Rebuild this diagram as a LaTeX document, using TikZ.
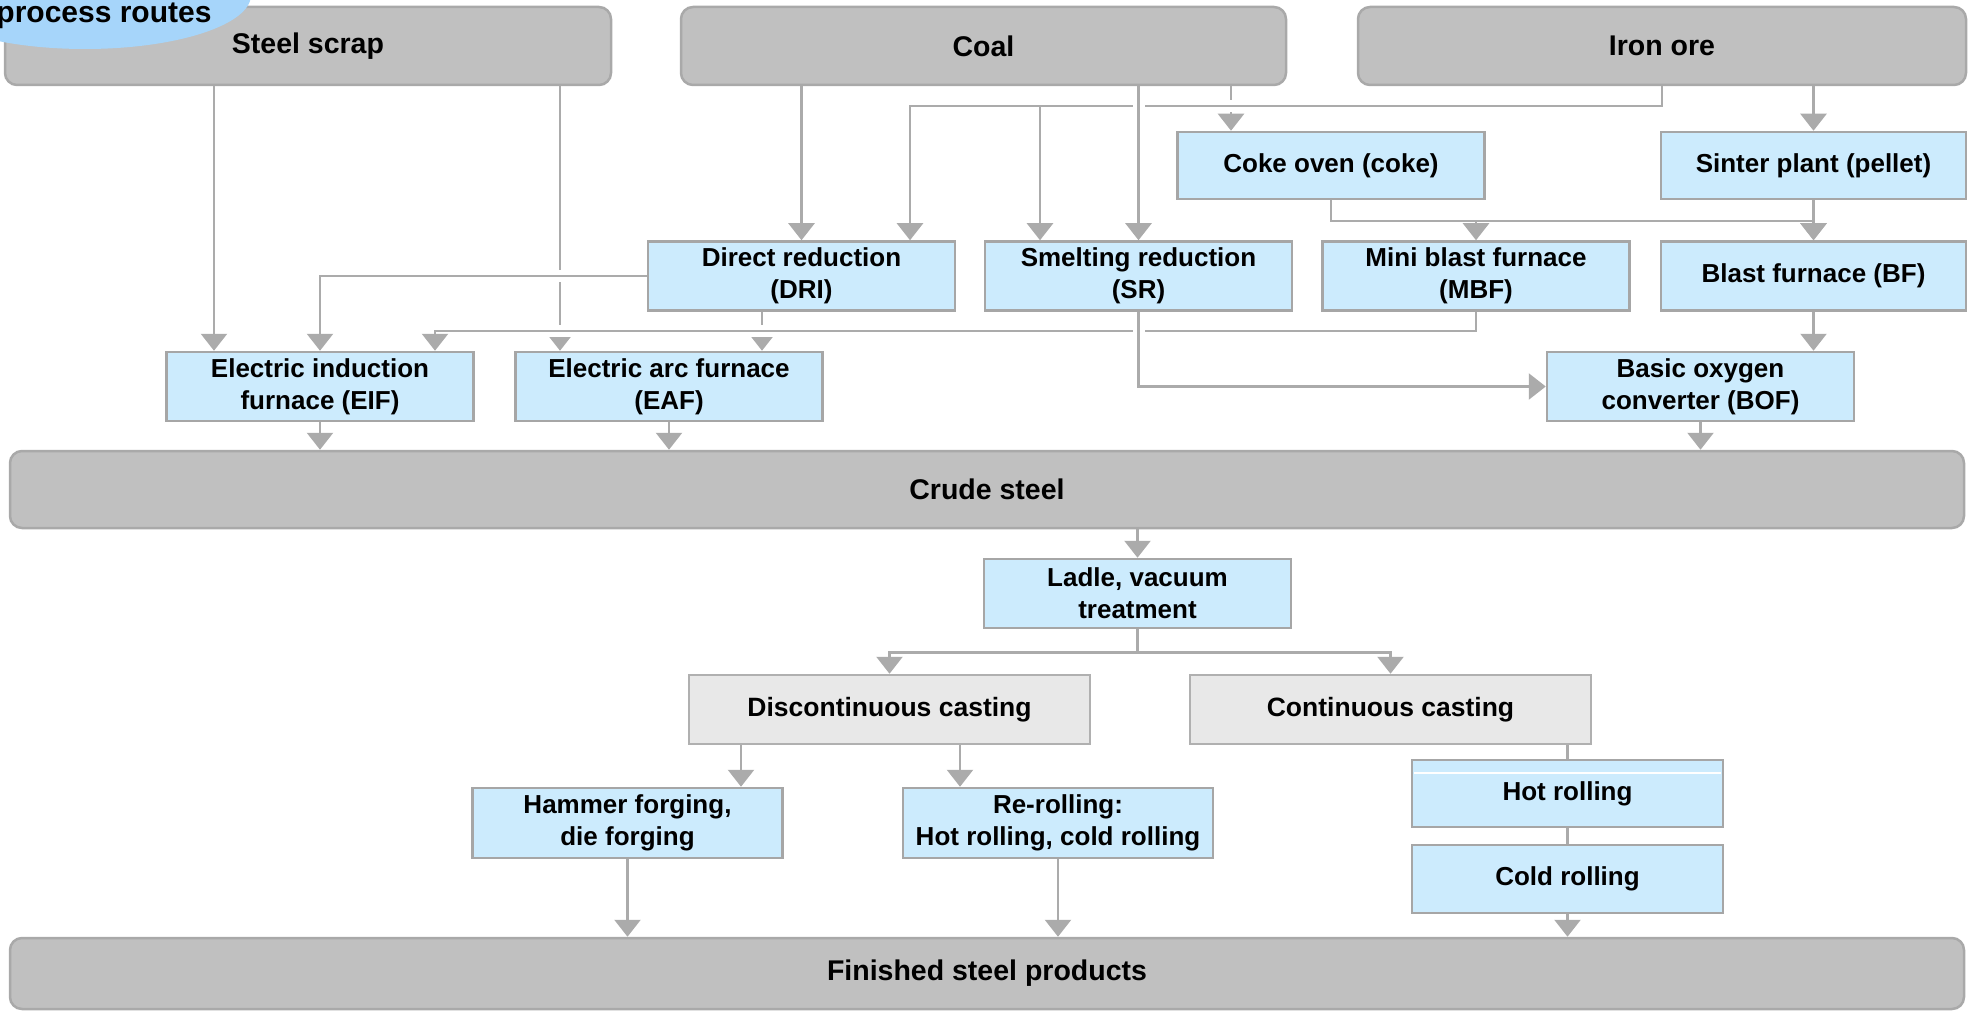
\documentclass[tikz,border=0pt]{standalone}
\usepackage{fontspec}
\setmainfont{Liberation Sans}
\usetikzlibrary{arrows.meta,calc}
\definecolor{grayfill}{HTML}{C0C0C0}
\definecolor{grayedge}{HTML}{A9A9A9}
\definecolor{bluefill}{HTML}{CCEBFD}
\definecolor{blueedge}{HTML}{A6A6A6}
\definecolor{ltfill}{HTML}{E8E8E8}
\definecolor{ltedge}{HTML}{B0B0B0}
\definecolor{linec}{HTML}{ABABAB}
\definecolor{bubblec}{HTML}{A6D5FA}
\begin{document}
\begin{tikzpicture}[x=1pt,y=-1pt,
  base/.style={inner sep=0pt, align=center, line width=2.5pt,
    font=\bfseries\fontsize{26pt}{32pt}\selectfont},
  graybox/.style={base, rounded corners=12pt, fill=grayfill, draw=grayedge,
    font=\bfseries\fontsize{28.5pt}{34pt}\selectfont, minimum height=78pt},
  bluebox/.style={base, fill=bluefill, draw=blueedge, minimum width=307pt, minimum height=69pt},
  ltbox/.style={base, fill=ltfill, draw=ltedge, minimum width=401pt, minimum height=69pt,
    font=\bfseries\fontsize{26.5pt}{32pt}\selectfont},
  conn/.style={draw=linec, line width=2.5pt},
  arr/.style={conn, -{Triangle[width=26pt,length=17pt]}},
  gapped/.style={preaction={draw=white, line width=12pt, -, shorten <=4pt, shorten >=4pt}}
]
\useasboundingbox (0,0) rectangle (1970,1011);

% nodes
\node[graybox, minimum width=606pt] (scrap) at (308,46) {Steel scrap};
\node[graybox, minimum width=605pt] (coal) at (983.5,46) {Coal};
\node[graybox, minimum width=608pt] (ore) at (1662,46) {Iron ore};

\node[bluebox, minimum height=67pt] (coke) at (1331,165.5) {Coke oven (coke)};
\node[bluebox, minimum height=67pt, minimum width=305pt] (sinter) at (1813.5,165.5) {Sinter plant (pellet)};

\node[bluebox] (dri) at (801.5,276) {Direct reduction\\(DRI)};
\node[bluebox] (sr) at (1138.5,276) {Smelting reduction\\(SR)};
\node[bluebox] (mbf) at (1476,276) {Mini blast furnace\\(MBF)};
\node[bluebox, minimum width=305pt] (bf) at (1813.5,276) {Blast furnace (BF)};

\node[bluebox] (eif) at (320,386.5) {Electric induction\\furnace (EIF)};
\node[bluebox] (eaf) at (669,386.5) {Electric arc furnace\\(EAF)};
\node[bluebox] (bof) at (1700.5,386.5) {Basic oxygen\\converter (BOF)};

\node[graybox, minimum width=1954pt, minimum height=77pt] (crude) at (987,489.5) {Crude steel};

\node[bluebox] (ladle) at (1137.5,593.5) {Ladle, vacuum\\treatment};

\node[ltbox] (disc) at (889.5,709.5) {Discontinuous casting};
\node[ltbox] (cont) at (1390.5,709.5) {Continuous casting};

\node[bluebox, minimum width=310pt, minimum height=70pt] (hammer) at (627.5,823) {Hammer forging,\\die forging};
\node[bluebox, minimum width=310pt, minimum height=70pt] (reroll) at (1058,823) {Re-rolling:\\Hot rolling, cold rolling};
\node[bluebox, minimum width=311pt, minimum height=67pt] (hot) at (1567.5,793.5) {Hot rolling};
\node[bluebox, minimum width=311pt, minimum height=68pt] (cold) at (1567.5,879) {Cold rolling};
\draw[white, line width=1.5pt] ([xshift=3pt,yshift=-14pt]hot.north west) -- ([xshift=-3pt,yshift=-14pt]hot.north east);

\node[graybox, minimum width=1954pt, minimum height=71pt] (fin) at (987,973.5) {Finished steel products};

% bubble
\fill[bubblec] (85,-5) ellipse [x radius=166, y radius=54];
\node[anchor=base, inner sep=0pt, font=\bfseries\fontsize{30pt}{34pt}\selectfont] (bubtext) at (104,23) {process routes};

% plain connectors
\draw[arr] (scrap.south -| 214,0) -- (eif.north -| 214,0);
\draw[arr] (scrap.south -| 560,0) -- (eaf.north -| 560,0);
\draw[arr] (coal.south -| dri.north) -- (dri.north);
\draw[arr] (coal.south -| 1231,0) -- (coke.north -| 1231,0);
\draw[arr] (ore.south -| sinter.north) -- (sinter.north);
\draw[arr] (coke.south) |- (1813.5,221) -- (bf.north);
\draw[arr] (sinter.south) -- (bf.north);
\draw[arr] (coke.south |- 0,221) -| (mbf.north);
\draw[arr] (dri.south -| 762,0) -- (eaf.north -| 762,0);
\draw[arr] (bf.south) -- (bof.north -| bf.south);

% crossing connectors (drawn over, with gaps)
\draw[arr, gapped] (ore.south) |- (910,106) -- (dri.north -| 910,0);
\draw[arr] (1040,106) -- (sr.north -| 1040,0);
\draw[arr, gapped] (coal.south -| sr.north) -- (sr.north);
\draw[arr, gapped] (dri.west) -| (eif.north);
\draw[arr, gapped] (mbf.south) |- (435,331) -- (eif.north -| 435,0);
\draw[arr, gapped] (sr.south) |- (bof.west);

% to crude steel
\draw[arr] (eif.south) -- (crude.north -| eif.south);
\draw[arr] (eaf.south) -- (crude.north -| eaf.south);
\draw[arr] (bof.south) -- (crude.north -| bof.south);

% lower part
\draw[arr] (crude.south -| ladle.north) -- (ladle.north);
\coordinate (lb) at ($(ladle.south)+(0,23)$);
\draw[conn] (ladle.south) -- (lb);
\draw[arr] (lb) -| (disc.north);
\draw[arr] (lb) -| (cont.north);
\draw[arr] (disc.south -| 741,0) -- (hammer.north -| 741,0);
\draw[arr] (disc.south -| 960,0) -- (reroll.north -| 960,0);
\draw[conn] (cont.south -| hot.north) -- (hot.north);
\draw[conn] (hot.south) -- (cold.north);
\draw[arr] (hammer.south) -- (fin.north -| hammer.south);
\draw[arr] (reroll.south) -- (fin.north -| reroll.south);
\draw[arr] (cold.south) -- (fin.north -| cold.south);
\end{tikzpicture}
\end{document}
